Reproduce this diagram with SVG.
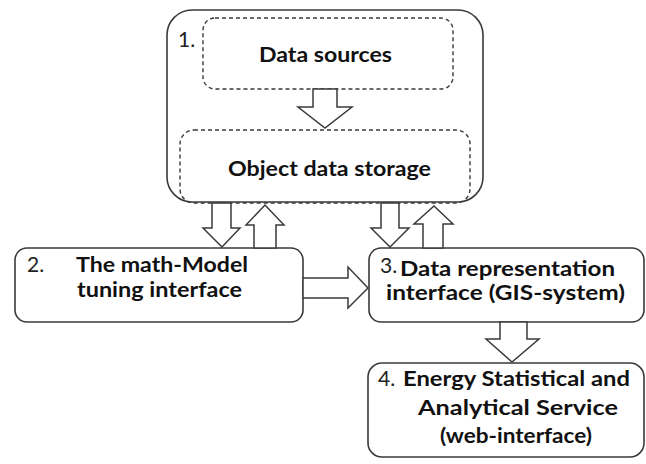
<svg xmlns="http://www.w3.org/2000/svg" width="646" height="464" viewBox="0 0 646 464">
<style>
.box{fill:#fff;stroke:#3a3a3a;stroke-width:1.6}
.dash{fill:none;stroke:#3a3a3a;stroke-width:1.4;stroke-dasharray:4 3}
.arr{fill:#fff;stroke:#3a3a3a;stroke-width:1.5;stroke-linejoin:miter}
.t{font-family:Lato,"Open Sans","Liberation Sans",sans-serif;font-size:21px;font-weight:bold;fill:#111}
.n{font-family:Lato,"Open Sans","Liberation Sans",sans-serif;font-size:21px;fill:#222}
</style>
<rect width="646" height="464" fill="#fff"/>
<g id="node1">
<rect class="box" x="167" y="10" width="316" height="192" rx="25"/>
<text class="n" x="178" y="47">1.</text>
</g>
<g id="data-sources">
<rect class="dash" x="203" y="18" width="250" height="71" rx="12"/>
<text class="t" x="259" y="62" textLength="133" lengthAdjust="spacingAndGlyphs">Data sources</text>
</g>
<g id="object-storage">
<rect class="dash" x="180" y="130" width="290" height="73" rx="14"/>
<text class="t" x="228" y="176" textLength="203" lengthAdjust="spacingAndGlyphs">Object data storage</text>
</g>
<g id="node2">
<rect class="box" x="15" y="248" width="288" height="74" rx="12"/>
<text class="n" x="27" y="272">2.</text>
<text class="t" x="76" y="272" textLength="172" lengthAdjust="spacingAndGlyphs">The math-Model</text>
<text class="t" x="77" y="297" textLength="165" lengthAdjust="spacingAndGlyphs">tuning interface</text>
</g>
<g id="node3">
<rect class="box" x="369" y="248" width="275" height="74" rx="12"/>
<text class="n" x="380" y="273">3.</text>
<text class="t" x="400" y="276" textLength="215" lengthAdjust="spacingAndGlyphs">Data representation</text>
<text class="t" x="386" y="300" textLength="239" lengthAdjust="spacingAndGlyphs">interface (GIS-system)</text>
</g>
<g id="node4">
<rect class="box" x="368" y="363" width="276" height="94" rx="14"/>
<text class="n" x="378" y="386">4.</text>
<text class="t" x="403" y="386" textLength="227" lengthAdjust="spacingAndGlyphs">Energy Statistical and</text>
<text class="t" x="418" y="415" textLength="200" lengthAdjust="spacingAndGlyphs">Analytical Service</text>
<text class="t" x="440" y="443" textLength="152" lengthAdjust="spacingAndGlyphs">(web-interface)</text>
</g>
<g id="connectors">
<polygon class="arr" points="313,89 337,89 337,107 352,107 325,128 298,107 313,107"/>
<polygon class="arr" points="212,203 231,203 231,228 240,228 222,247 203,228 212,228"/>
<polygon class="arr" points="254,248 276,248 276,225 284,225 265,205 246,225 254,225"/>
<polygon class="arr" points="381,203 399,203 399,228 409,228 390,247 371,228 381,228"/>
<polygon class="arr" points="423,248 443,248 443,224 453,224 434,206 414,224 423,224"/>
<polygon class="arr" points="303,278 348,278 348,267 368,288 348,308 348,298 303,298"/>
<polygon class="arr" points="500,322 527,322 527,339 539,339 512,362 486,339 500,339"/>
</g>
</svg>
